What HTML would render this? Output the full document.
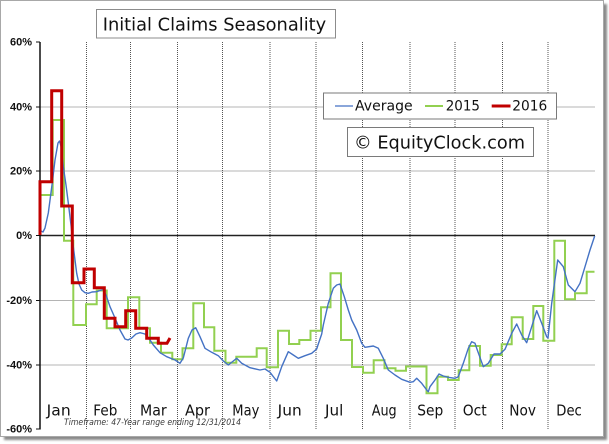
<!DOCTYPE html>
<html>
<head>
<meta charset="utf-8">
<style>
html,body{margin:0;padding:0;background:#ffffff;}
body{width:609px;height:444px;position:relative;overflow:hidden;}
#shadow{position:absolute;left:4px;top:4px;width:603px;height:436px;background:#8a8a8a;filter:blur(1px);}
#frame{position:absolute;left:0;top:0;width:602px;height:435px;background:#fff;border:1px solid #a8a8a8;}
svg{position:absolute;left:0;top:0;}
</style>
</head>
<body>
<div id="shadow"></div>
<div id="frame"></div>
<svg width="609" height="444" viewBox="0 0 609 444" xmlns="http://www.w3.org/2000/svg">
  <!-- horizontal gridlines -->
  <g stroke="#b4b4b4" stroke-width="1">
    <line x1="40" y1="107" x2="595" y2="107"/>
    <line x1="40" y1="171" x2="595" y2="171"/>
    <line x1="40" y1="300.5" x2="595" y2="300.5"/>
    <line x1="40" y1="365" x2="595" y2="365"/>
  </g>
  <!-- vertical dotted month separators -->
  <g stroke="#555" stroke-width="1" stroke-dasharray="1,1">
    <line x1="86.5" y1="42" x2="86.5" y2="429"/>
    <line x1="130.5" y1="42" x2="130.5" y2="429"/>
    <line x1="177.5" y1="42" x2="177.5" y2="429"/>
    <line x1="222.5" y1="42" x2="222.5" y2="429"/>
    <line x1="270" y1="42" x2="270" y2="429"/>
    <line x1="316" y1="42" x2="316" y2="429"/>
    <line x1="362.5" y1="42" x2="362.5" y2="429"/>
    <line x1="410" y1="42" x2="410" y2="429"/>
    <line x1="455" y1="42" x2="455" y2="429"/>
    <line x1="502.5" y1="42" x2="502.5" y2="429"/>
    <line x1="548" y1="42" x2="548" y2="429"/>
  </g>
  <!-- zero line -->
  <line x1="40" y1="235.5" x2="595" y2="235.5" stroke="#222" stroke-width="1.5"/>
  <!-- y axis -->
  <line x1="40" y1="42" x2="40" y2="429.5" stroke="#111" stroke-width="1.5"/>
  <g stroke="#111" stroke-width="1">
    <line x1="36" y1="42" x2="40" y2="42"/>
    <line x1="36" y1="107" x2="40" y2="107"/>
    <line x1="36" y1="171" x2="40" y2="171"/>
    <line x1="36" y1="235.5" x2="40" y2="235.5"/>
    <line x1="36" y1="300.5" x2="40" y2="300.5"/>
    <line x1="36" y1="365" x2="40" y2="365"/>
    <line x1="36" y1="429" x2="40" y2="429"/>
  </g>
  <!-- y labels -->
  <g font-family="Liberation Sans, Arial, sans-serif" font-weight="bold" font-size="11" fill="#111" text-anchor="end">
    <text x="32" y="45.5">60%</text>
    <text x="32" y="110.5">40%</text>
    <text x="32" y="174.5">20%</text>
    <text x="32" y="239">0%</text>
    <text x="32" y="304">-20%</text>
    <text x="32" y="368.5">-40%</text>
    <text x="32" y="432.5">-60%</text>
  </g>
  <!-- month labels -->
  <g font-family="DejaVu Sans, Verdana, sans-serif" font-size="15" fill="#111">
    <text x="46.7" y="415.7" textLength="24" lengthAdjust="spacingAndGlyphs">Jan</text>
    <text x="93.3" y="415.7" textLength="24" lengthAdjust="spacingAndGlyphs">Feb</text>
    <text x="140" y="415.7" textLength="26.7" lengthAdjust="spacingAndGlyphs">Mar</text>
    <text x="185" y="415.7" textLength="25" lengthAdjust="spacingAndGlyphs">Apr</text>
    <text x="232.3" y="415.7" textLength="27" lengthAdjust="spacingAndGlyphs">May</text>
    <text x="277.7" y="415.7" textLength="24" lengthAdjust="spacingAndGlyphs">Jun</text>
    <text x="325" y="415.7" textLength="18.3" lengthAdjust="spacingAndGlyphs">Jul</text>
    <text x="371.7" y="415.7" textLength="25" lengthAdjust="spacingAndGlyphs">Aug</text>
    <text x="417.3" y="415.7" textLength="26" lengthAdjust="spacingAndGlyphs">Sep</text>
    <text x="462.7" y="415.7" textLength="24" lengthAdjust="spacingAndGlyphs">Oct</text>
    <text x="509.3" y="415.7" textLength="26.7" lengthAdjust="spacingAndGlyphs">Nov</text>
    <text x="556.3" y="415.7" textLength="25.5" lengthAdjust="spacingAndGlyphs">Dec</text>
  </g>
  <text x="64" y="425" font-family="DejaVu Sans, Verdana, sans-serif" font-style="italic" font-size="8.5" fill="#3a3a3a" textLength="177" lengthAdjust="spacingAndGlyphs">Timeframe: 47-Year range ending 12/31/2014</text>

  <!-- 2015 series (green) -->
  <path fill="none" stroke="#92d050" stroke-width="2" stroke-linejoin="miter"
    d="M40,235 V195 H52.7 V120 H64 V240.7 H73.3 V325 H86 V304.3 H96.7 V290.5 H106.7 V328.3 H128 V297.3 H139.3 V328.3 H150 V342.7 H161 V352.7 H172.3 V359.3 H182.5 V348.3 H193.3 V303.3 H204 V327.3 H214.3 V350.7 H225.5 V362.7 H236.3 V356.7 H256.7 V348.3 H266.7 V367.3 H278 V330.7 H289 V344 H299.3 V340 H310.5 V330.7 H321 V307.3 H330.5 V273.3 H341 V340 H352 V367 H363 V372.7 H373.7 V360.3 H384.5 V368.3 H395.5 V370.8 H406 V366.5 H426.5 V393.3 H437.5 V376.7 H448 V380 H458.7 V370.3 H469.3 V346 H480 V365.7 H490.7 V355 H501.7 V344.3 H511.7 V317.3 H522.7 V339 H533.3 V306 H543.3 V340.7 H554.3 V240.7 H565 V299.3 H575 V293.3 H586.7 V271.7 H594.5"/>

  <!-- Average (blue) -->
  <polyline fill="none" stroke="#4472c4" stroke-width="1.4" stroke-linejoin="round"
    points="40,233 41,231 43,232 45,228 48.3,213 52,185 55,160 58,143 59.5,141 61,146 63.3,166.7 66,185 68.3,203 71,225 73.3,246.7 76.7,273.3 79,284 81.7,290 85,292.7 88.3,293.3 92,292 96.7,291.7 100,290.5 103.3,289.5 106,295 110,306.7 115,318 120,330 125,339 128,340 131.7,338 136,334 140,332.7 145,334 150,340 153.3,345 160,352.7 166.7,356.7 175,360 180,363.3 183.3,358 188.3,338.3 192,330 195.7,327.7 200,336.7 205,348.3 211.7,352.3 218.3,355.7 223.3,361 228.3,365 233.3,361 236.7,358.3 241.7,363.3 250,367.7 260,370 265,369 270,372.3 276.7,381 281.7,366.7 288.3,351.7 293.3,355 298.3,358.3 305,355.7 311.7,353.3 316.7,349 318.3,344 321.7,334 323.3,325 328.3,303.3 333.3,288.3 336.7,285 340,284 344.3,296.7 348.3,310 351.7,320 356.7,330 361.7,343.3 365,347.3 373.3,346 378.3,348.3 383.3,358.3 388.3,370 395,375 401.7,379.3 410,382.3 413.3,381.7 416.7,378.3 421.7,383.3 426.7,390 428.3,391.7 430,386.7 435,380 439,374 443.3,376 448.3,377.3 455,378.3 458.3,376.7 463.3,363.3 468.3,348.3 471.7,341.7 475,343.3 477.3,350 483.3,366.7 488.3,363.3 494,354 500,354 505,349.3 511.7,333.3 516.7,324 521.7,335 526.7,342.7 531.7,326.7 536.7,310.7 541.7,323.3 546.7,336.7 548,338 551.7,303.3 557.7,260 563.3,266.7 568.3,285 575,291.7 580,283.3 585,266.7 590,250 594.7,236"/>

  <!-- 2016 series (red) -->
  <path fill="none" stroke="#c00000" stroke-width="3" stroke-linejoin="miter"
    d="M40,235 V181.7 H51.7 V90.7 H61.7 V206 H72.3 V282.7 H84 V269 H94.3 V287.7 H104.3 V318.3 H115 V326.7 H125.7 V310.7 H135.7 V328.3 H146.7 V338.3 H158.3 V343.3 H167 L170,338"/>

  <!-- Title box -->
  <rect x="96.5" y="9.5" width="239" height="28.5" fill="#fff" stroke="#8c8c8c" stroke-width="1"/>
  <text x="102.7" y="30.7" font-family="DejaVu Sans, Verdana, sans-serif" font-size="18" fill="#111" textLength="223.5" lengthAdjust="spacingAndGlyphs">Initial Claims Seasonality</text>

  <!-- Legend box -->
  <rect x="323.5" y="93" width="233" height="26" fill="#fff" stroke="#7a7a7a" stroke-width="1"/>
  <line x1="335" y1="106" x2="353" y2="106" stroke="#4472c4" stroke-width="1.3"/>
  <text x="355" y="110.5" font-family="DejaVu Sans, Verdana, sans-serif" font-size="14.5" fill="#111" textLength="57.7" lengthAdjust="spacingAndGlyphs">Average</text>
  <line x1="425" y1="106" x2="443" y2="106" stroke="#92d050" stroke-width="2"/>
  <text x="445.7" y="110.5" font-family="DejaVu Sans, Verdana, sans-serif" font-size="14.5" fill="#111" textLength="34.3" lengthAdjust="spacingAndGlyphs">2015</text>
  <line x1="491.7" y1="106" x2="510.5" y2="106" stroke="#c00000" stroke-width="3"/>
  <text x="512.3" y="110.5" font-family="DejaVu Sans, Verdana, sans-serif" font-size="14.5" fill="#111" textLength="35" lengthAdjust="spacingAndGlyphs">2016</text>

  <!-- EquityClock box -->
  <rect x="347.5" y="127.5" width="186" height="29" fill="#fff" stroke="#7a7a7a" stroke-width="1"/>
  <text x="354" y="148.7" font-family="DejaVu Sans, Verdana, sans-serif" font-size="17.5" fill="#111" textLength="171" lengthAdjust="spacingAndGlyphs">© EquityClock.com</text>
</svg>
</body>
</html>
